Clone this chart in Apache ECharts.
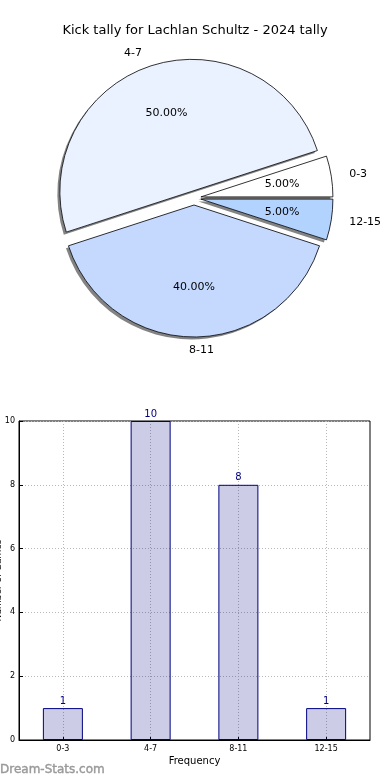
<!DOCTYPE html>
<html>
<head>
<meta charset="utf-8">
<script src="https://cdn.jsdelivr.net/npm/echarts@6/dist/echarts.min.js"></script>
<style>
html,body{margin:0;padding:0;background:#fff;}
#c{width:390px;height:780px;}
</style>
</head>
<body>
<div id="c"></div>
<script>
const titleText = 'Kick tally for Lachlan Schultz - 2024 tally';
const categories = ['0-3', '4-7', '8-11', '12-15'];
const counts = [1, 10, 8, 1];
const percents = [5.00, 50.00, 40.00, 5.00];
const sliceColors = ['#ffffff', '#eaf1ff', '#c5d9ff', '#b3d3ff'];
const yTicks = [0, 2, 4, 6, 8, 10];
const xAxisName = 'Frequency';
const yAxisName = 'Number of Games';
const watermark = 'Dream-Stats.com';

const FONT = 'DejaVu Sans';
const R = 132;
const CENTER = [194, 198];
const OFF = 7;

const pieBase = {
  type: 'pie', center: CENTER, radius: [0, R],
  startAngle: 0, clockwise: false,
  selectedMode: 'multiple', selectedOffset: OFF,
  avoidLabelOverlap: false, silent: true,
  emphasis: { disabled: true }
};

const chart = echarts.init(document.getElementById('c'), null, { renderer: 'canvas' });
chart.setOption({
  animation: false,
  backgroundColor: '#fff',
  textStyle: { fontFamily: FONT },
  title: [
    { text: titleText, left: 'center', top: 19,
      textStyle: { fontFamily: FONT, fontSize: 13, fontWeight: 'normal', color: '#000' } },
    { text: watermark, left: 0, top: 764, padding: 0,
      textStyle: { fontFamily: FONT, fontSize: 12, fontWeight: 'normal', color: '#999999',
        textBorderColor: '#999999', textBorderWidth: 0.4 } }
  ],
  grid: { left: 19, right: 20, top: 421, bottom: 40, outerBoundsMode: 'none', containLabel: false,
    show: true, borderColor: '#000', borderWidth: 1, backgroundColor: 'transparent' },
  xAxis: {
    type: 'category', data: categories,
    name: xAxisName, nameLocation: 'middle', nameGap: 16,
    nameTextStyle: { fontFamily: FONT, fontSize: 10, color: '#000' },
    axisLine: { show: true, lineStyle: { color: '#000' } },
    axisTick: { show: true, inside: true, alignWithLabel: true, length: 4, lineStyle: { color: '#000' } },
    axisLabel: { fontFamily: FONT, fontSize: 8, color: '#000', margin: 5 },
    splitLine: { show: false }
  },
  yAxis: {
    type: 'value', min: 0, max: 10, interval: 2,
    name: yAxisName, nameLocation: 'middle', nameGap: 16, nameRotate: 90, nameMoveOverlap: false,
    nameTextStyle: { fontFamily: FONT, fontSize: 9, color: '#000' },
    axisLine: { show: true, lineStyle: { color: '#000' } },
    axisTick: { show: true, inside: true, length: 4, lineStyle: { color: '#000' } },
    axisLabel: { fontFamily: FONT, fontSize: 8, color: '#000', margin: 4,
      formatter: v => yTicks.includes(v) ? String(v) : '' },
    splitLine: { show: true, lineStyle: { color: '#b8b8b8', type: [1, 2], width: 1 } }
  },
  series: [
    {
      type: 'bar', data: counts, barWidth: 40,
      itemStyle: { color: 'rgba(0,0,128,0.2)', borderColor: '#000080', borderWidth: 1 },
      label: { show: true, position: 'top', distance: 2, color: '#000080', fontFamily: FONT, fontSize: 10 },
      silent: true,
      z: 2,
      markLine: {
        silent: true, symbol: 'none', label: { show: false },
        lineStyle: { color: '#b8b8b8', type: [1, 2], width: 1 },
        data: categories.map(c => ({ xAxis: c })),
        z: 1
      }
    },
    Object.assign({}, pieBase, {
      z: 1,
      itemStyle: { borderWidth: 0,
        shadowColor: 'rgba(100,100,100,0.8)', shadowBlur: 0, shadowOffsetX: -2.5, shadowOffsetY: 2.5 },
      label: { show: false }, labelLine: { show: false },
      data: categories.map((c, i) => ({ name: c, value: percents[i], selected: true,
        itemStyle: { color: sliceColors[i] } }))
    }),
    Object.assign({}, pieBase, {
      z: 2,
      itemStyle: { borderColor: '#000', borderWidth: 0.8 },
      label: { show: true, position: 'outside', fontFamily: FONT, fontSize: 11, color: '#000',
        formatter: '{b}' },
      labelLine: { show: false, length: 13, length2: 0 },
      labelLayout: p => p.dataIndex === 2 ? { dx: p.labelRect.width } : {},
      data: categories.map((c, i) => ({ name: c, value: percents[i], selected: true,
        itemStyle: { color: sliceColors[i] } }))
    }),
    Object.assign({}, pieBase, {
      z: 3,
      radius: [0, R * 1.2],
      itemStyle: { color: 'rgba(0,0,0,0)', borderWidth: 0 },
      label: { show: true, position: 'inside', fontFamily: FONT, fontSize: 11, color: '#000',
        formatter: p => p.value.toFixed(2) + '%' },
      labelLine: { show: false },
      data: categories.map((c, i) => ({ name: c, value: percents[i], selected: true }))
    })
  ]
});
</script>
</body>
</html>
